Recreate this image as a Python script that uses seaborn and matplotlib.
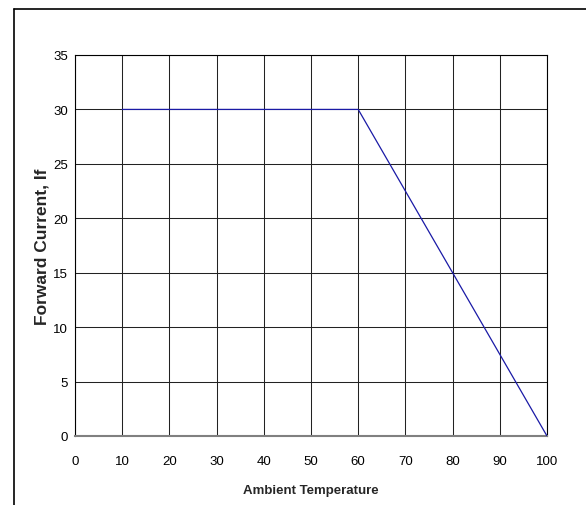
import matplotlib
matplotlib.use("Agg")
import matplotlib.pyplot as plt
import seaborn as sns
import pandas as pd
from matplotlib.lines import Line2D

temperature = [10, 60, 100]
forward_current = [30, 30, 0]
x_ticks = list(range(0, 101, 10))
y_ticks = list(range(0, 36, 5))

sns.set_theme(style="white")
plt.rcParams['font.family'] = ['Liberation Sans', 'DejaVu Sans']

df = pd.DataFrame({"Ambient Temperature": temperature, "Forward Current, If": forward_current})

W, H = 586, 506
fig = plt.figure(figsize=(W / 100, H / 100), dpi=100)
ax = fig.add_axes([75 / W, (H - 437) / H, (547 - 75) / W, (437 - 56) / H])

sns.lineplot(data=df, x="Ambient Temperature", y="Forward Current, If", ax=ax,
             color="#1a1aa6", linewidth=0.9, zorder=3)

ax.set_xlim(0, 100)
ax.set_ylim(0, 35)
ax.set_xticks(x_ticks)
ax.set_yticks(y_ticks)
ax.set_xticklabels([str(v) for v in x_ticks], fontsize=9.5)
ax.set_yticklabels([str(v) for v in y_ticks], fontsize=9.5)
ax.grid(True, color="#222222", linewidth=0.75)
ax.set_axisbelow(True)
for s in ax.spines.values():
    s.set_color("black")
    s.set_linewidth(0.8)
ax.spines['bottom'].set_color("#808080")
ax.spines['bottom'].set_linewidth(1.5)
ax.tick_params(axis='both', direction='out', length=4, width=0.8, color="black",
               labelcolor="black")
ax.tick_params(axis='x', pad=10)
ax.tick_params(axis='y', pad=1)
ax.set_xlabel("Ambient Temperature", fontsize=9.5, fontweight="bold", labelpad=12)
ax.set_ylabel("Forward Current, If", fontsize=12.5, fontweight="bold", labelpad=3)

fig.add_artist(Line2D([14 / W, 14 / W], [0, 1 - 10 / H], color="black", linewidth=1.2,
                      transform=fig.transFigure))
fig.add_artist(Line2D([14 / W, 1], [1 - 10 / H, 1 - 10 / H], color="black", linewidth=1.2,
                      transform=fig.transFigure))

fig.savefig("out.png", dpi=100)
